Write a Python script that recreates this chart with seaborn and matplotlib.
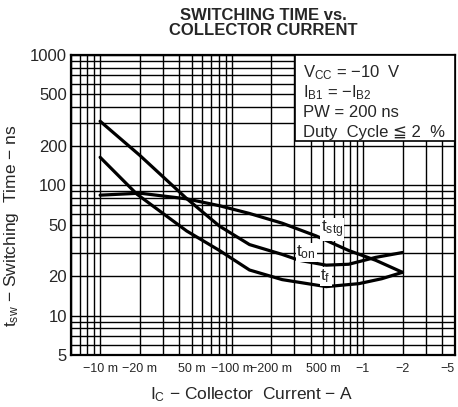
"""Switching time vs. collector current"""

import numpy as np
import pandas as pd
import matplotlib
matplotlib.use("Agg")
import matplotlib.pyplot as plt
import matplotlib.ticker as mticker
from matplotlib.patches import Rectangle
import seaborn as sns

# 数据 (IC in A, t in ns)
ic_on = [0.01, 0.02, 0.0456, 0.081, 0.137, 0.243, 0.327, 0.525, 0.78, 1.25, 2.0]
t_on = [310, 170, 79, 48.6, 35.1, 29.5, 26.6, 24.4, 24.8, 28, 30.5]

ic_f = [0.01, 0.019, 0.0456, 0.081, 0.137, 0.243, 0.525, 0.93, 1.39, 2.0]
t_f = [164, 85.7, 44.6, 31.6, 22.4, 18.9, 16.7, 17.6, 19.2, 21.5]

ic_stg = [0.01, 0.0201, 0.0456, 0.081, 0.137, 0.243, 0.44, 0.78, 1.25, 2.0]
t_stg = [84, 87, 78.7, 69.7, 60.8, 51.2, 40.9, 31.6, 26.6, 21.5]

x_ticks = [0.01, 0.02, 0.05, 0.1, 0.2, 0.5, 1, 2, 5]
x_labels = ["−10 m", "−20 m", "50 m", "−100 m", "−200 m", "500 m", "−1", "−2", "−5"]
y_ticks = [5, 10, 20, 50, 100, 200, 500, 1000]
y_labels = ["5", "10", "20", "50", "100", "200", "500", "1000"]

curve_labels = [r"$\mathregular{t_{stg}}$", r"$\mathregular{t_{on}}$", r"$\mathregular{t_{f}}$"]
curve_label_pos = [(0.58, 46), (0.37, 30.5), (0.52, 20)]

cond_lines = [
    r"$\mathregular{V_{CC}}$ = −10  V",
    r"$\mathregular{I_{B1}}$ = −$\mathregular{I_{B2}}$",
    "PW = 200 ns",
    "Duty  Cycle ≦ 2  %",
]

sns.set_style("white")
plt.rcParams["font.family"] = ["Liberation Sans", "DejaVu Sans", "Noto Sans CJK JP"]
plt.rcParams["mathtext.fontset"] = "custom"
plt.rcParams["mathtext.rm"] = "Liberation Sans"

fig, ax = plt.subplots(figsize=(4.58, 4.07), dpi=100)
fig.subplots_adjust(left=0.155, right=0.993, top=0.865, bottom=0.128)

for xs, ys in [(ic_on, t_on), (ic_f, t_f), (ic_stg, t_stg)]:
    df = pd.DataFrame({"ic": xs, "t": ys})
    sns.lineplot(data=df, x="ic", y="t", ax=ax, color="black", linewidth=2.3,
                 sort=False, estimator=None, zorder=5)

ax.set_xscale("log")
ax.set_yscale("log")
ax.set_xlim(0.006, 5)
ax.set_ylim(5, 1000)

ax.set_xticks(x_ticks)
ax.set_xticklabels(x_labels, fontsize=9)
ax.get_xticklabels()[-1].set_horizontalalignment("right")
ax.set_yticks(y_ticks)
ax.set_yticklabels(y_labels, fontsize=12)
ax.xaxis.set_minor_formatter(mticker.NullFormatter())
ax.yaxis.set_minor_formatter(mticker.NullFormatter())
ax.tick_params(which="both", length=0)
ax.tick_params(axis="x", pad=6)
ax.tick_params(axis="y", pad=3)

ax.grid(which="both", color="black", linewidth=1.0)
for s in ax.spines.values():
    s.set_linewidth(1.6)
    s.set_color("black")

ax.set_xlabel(r"$\mathregular{I_C}$ − Collector  Current − A", fontsize=12.5)
ax.set_ylabel(r"$\mathregular{t_{sw}}$ − Switching  Time − ns", fontsize=12.5)
ax.xaxis.set_label_coords(0.47, -0.1)
ax.yaxis.set_label_coords(-0.13, 0.43)

# 曲线标注
for lab, (xp, yp) in zip(curve_labels, curve_label_pos):
    ax.text(xp, yp, lab, fontsize=12.5, ha="center", va="center", zorder=6,
            bbox=dict(facecolor="white", edgecolor="none", pad=0.5))

# 条件框
ax.add_patch(Rectangle((0.583, 0.713), 0.417, 0.287, transform=ax.transAxes,
                       facecolor="white", edgecolor="black", linewidth=1.2, zorder=7))
for i, line in enumerate(cond_lines):
    ax.text(0.604, 0.94 - i * 0.066, line, transform=ax.transAxes, fontsize=12,
            ha="left", va="center", zorder=8)

fig.text(0.575, 1 - 23 / 407, "SWITCHING TIME vs.\nCOLLECTOR CURRENT",
         ha="center", va="center", fontsize=12, fontweight="bold", linespacing=1.05)

fig.savefig("out.png", dpi=100)
